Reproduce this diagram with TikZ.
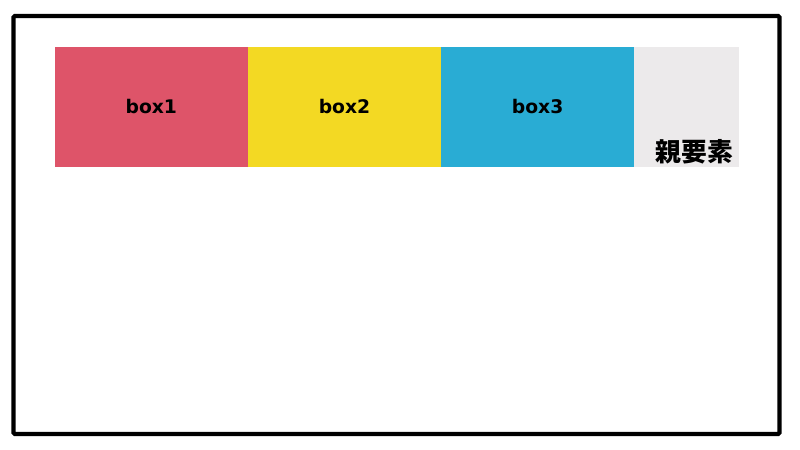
\documentclass[tikz,border=0pt]{standalone}
\usepackage{fontspec}
\setmainfont{DejaVu Sans}
\newfontfamily\jpfont{Noto Sans CJK JP}
\usetikzlibrary{positioning}

\definecolor{boxred}{HTML}{DE5469}
\definecolor{boxyellow}{HTML}{F3D923}
\definecolor{boxblue}{HTML}{29ACD4}
\definecolor{parentgray}{HTML}{ECEAEB}

\begin{document}
\begin{tikzpicture}[
  x=0.03cm, y=-0.03cm,
  parent/.style={fill=parentgray, minimum width=20.52cm, minimum height=3.6cm, inner sep=0pt},
  child/.style={minimum width=5.78cm, minimum height=3.6cm, inner sep=0pt,
    font=\bfseries\fontsize{16}{16}\selectfont},
]
\useasboundingbox (0,0) rectangle (800,450);

% Frame
\draw[line width=0.13cm, rounded corners=0.04cm] (13.5,16) rectangle (779.5,434);

% Parent element
\node[parent] (parent) at (397,107) {};

% Children in a row
\node[child, fill=boxred, anchor=north west] (box1) at (parent.north west) {box1};
\node[child, fill=boxyellow, right=0pt of box1] (box2) {box2};
\node[child, fill=boxblue, right=0pt of box2] (box3) {box3};

% Label of the parent
\node[font=\jpfont\bfseries\fontsize{22}{22}\selectfont, anchor=south east,
  inner xsep=0.18cm, inner ysep=0.1cm] (label) at (parent.south east) {親要素};

\end{tikzpicture}
\end{document}
